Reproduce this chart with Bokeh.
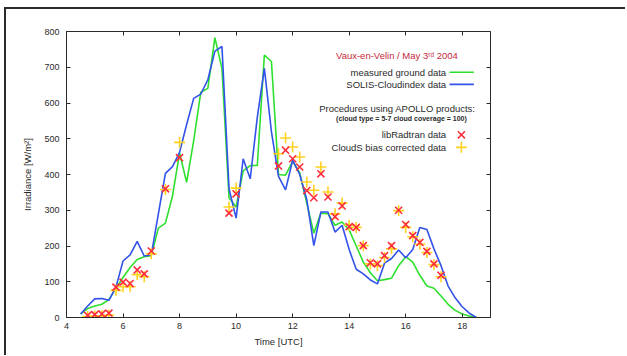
from bokeh.plotting import figure
from bokeh.models import LinearAxis, SingleIntervalTicker, Label, Range1d
from bokeh.embed import file_html
from bokeh.resources import INLINE

# ---------------- data ----------------
line_time = [4.5, 4.75, 5.0, 5.25, 5.5, 5.75, 6.0, 6.25, 6.5, 6.75, 7.0, 7.25, 7.5, 7.75,
             8.0, 8.25, 8.5, 8.75, 9.0, 9.25, 9.5, 9.75, 10.0, 10.25, 10.5, 10.75, 11.0,
             11.25, 11.5, 11.75, 12.0, 12.25, 12.5, 12.75, 13.0, 13.25, 13.5, 13.75, 14.0,
             14.25, 14.5, 14.75, 15.0, 15.25, 15.5, 15.75, 16.0, 16.25, 16.5, 16.75, 17.0,
             17.25, 17.5, 17.75, 18.0, 18.25, 18.5]
measured_ground = [10, 25, 32, 37, 50, 82, 112, 140, 162, 170, 173, 250, 264, 340,
                   460, 378, 495, 630, 641, 783, 696, 335, 309, 410, 425, 425, 734,
                   716, 400, 398, 437, 405, 320, 236, 292, 290, 258, 267, 245,
                   200, 155, 125, 103, 106, 110, 145, 170, 155, 118, 88, 82,
                   60, 37, 20, 10, 4, 0]
solis_cloudindex = [10, 32, 52, 53, 48, 85, 158, 175, 213, 172, 175, 290, 403, 422,
                    462, 540, 613, 625, 665, 745, 758, 360, 278, 444, 388, 560, 697,
                    520, 395, 357, 440, 400, 330, 201, 295, 295, 239, 258, 190,
                    135, 122, 105, 94, 152, 165, 189, 167, 190, 252, 246, 192,
                    145, 88, 55, 30, 12, 0]

model_time = [4.75, 5.0, 5.25, 5.5, 5.75, 6.0, 6.25, 6.5, 6.75, 7.0, 7.5, 8.0, 9.75, 10.0,
              11.5, 11.75, 12.0, 12.25, 12.5, 12.75, 13.0, 13.25, 13.5, 13.75, 14.0, 14.25,
              14.5, 14.75, 15.0, 15.25, 15.5, 15.75, 16.0, 16.25, 16.5, 16.75, 17.0, 17.25]
libradtran = [6, 8, 10, 12, 85, 99, 95, 133, 122, 186, 360, 447, 292, 346,
              424, 468, 444, 421, 355, 335, 402, 337, 282, 312, 254, 252,
              201, 153, 150, 173, 201, 300, 260, 229, 210, 185, 150, 118]
clouds_corrected = [3, 4, 5, 7, 76, 86, 86, 120, 114, 178, 358, 490, 309, 362,
                    458, 502, 477, 449, 379, 356, 421, 351, 290, 320, 258, 252,
                    201, 150, 145, 168, 192, 299, 252, 226, 205, 182, 148, 114]

x_ticks_interval = 2
y_ticks_interval = 100

title_text = "Vaux-en-Velin / May 3\u02b3\u1d48 2004"
legend_labels = ["measured ground data", "SOLIS-Cloudindex data",
                 "libRadtran data", "CloudS bias corrected data"]
apollo_text = "Procedures using APOLLO products:"
apollo_sub = "(cloud type = 5-7  cloud coverage = 100)"

# ---------------- styling ----------------
FONT = "Liberation Sans"
DARK = "#2a2a2a"
GREEN = "#2ee02e"
BLUE = "#3352ea"
RED = "#ff2d3c"
YELLOW = "#ffd21f"

p = figure(width=621, height=348, output_backend="svg", toolbar_location=None,
           x_range=Range1d(4, 19), y_range=Range1d(0, 800),
           min_border_left=60, min_border_right=137, min_border_top=22, min_border_bottom=40)
p.styles = {"margin-left": "4px", "margin-top": "7px",
            "border-left": "2px solid #2b2b2b", "border-top": "2px solid #2b2b2b"}
p.background_fill_color = "white"
p.border_fill_color = "white"
p.outline_line_color = DARK
p.outline_line_width = 1
p.xgrid.visible = False
p.ygrid.visible = False

xt = SingleIntervalTicker(interval=x_ticks_interval)
yt = SingleIntervalTicker(interval=y_ticks_interval)
p.xaxis.ticker = xt
p.yaxis.ticker = yt

for ax in (p.xaxis[0], p.yaxis[0]):
    ax.major_tick_in = 4
    ax.major_tick_out = 0
    ax.minor_tick_in = 0
    ax.minor_tick_out = 0
    ax.axis_line_color = DARK
    ax.major_tick_line_color = DARK
    ax.major_label_text_font = FONT
    ax.major_label_text_font_size = "9px"
    ax.major_label_text_color = DARK
    ax.axis_label_text_font = FONT
    ax.axis_label_text_font_size = "9.5px"
    ax.axis_label_text_font_style = "normal"
    ax.axis_label_text_color = DARK

p.xaxis.axis_label = "Time [UTC]"
p.yaxis.axis_label = "Irradiance [W/m\u00b2]"
p.xaxis.major_label_standoff = 5
p.xaxis.axis_label_standoff = 4
p.yaxis.major_label_standoff = 7
p.yaxis.axis_label_standoff = 8

# mirrored inward ticks on top and right (no labels)
for side, tk in (("above", xt), ("right", yt)):
    ax = LinearAxis(ticker=tk, major_tick_in=4, major_tick_out=0, minor_tick_in=0,
                    minor_tick_out=0, axis_line_color=None, major_tick_line_color=DARK,
                    major_label_text_color=None, major_label_text_font_size="1px",
                    major_label_standoff=0)
    p.add_layout(ax, side)

# ---------------- data glyphs ----------------
p.line(line_time, measured_ground, line_color=GREEN, line_width=1.6)
p.line(line_time, solis_cloudindex, line_color=BLUE, line_width=1.6)
p.scatter(model_time, clouds_corrected, marker="cross", size=11, line_color=YELLOW,
          line_width=1.6)
p.scatter(model_time, libradtran, marker="x", size=10, line_color=RED, line_width=1.6)

# ---------------- key (gnuplot style) ----------------
key_text_right = 17.43
key_sample_l, key_sample_r = 17.55, 18.41
key_marker_x = 17.97
rows_y = [686, 652, 511, 476]

p.add_layout(Label(x=15.69, y=733, text=title_text, text_align="center",
                   text_baseline="middle", text_font=FONT, text_font_size="9.5px",
                   text_color="#c8283c"))
for lab, yy in zip(legend_labels, rows_y):
    p.add_layout(Label(x=key_text_right, y=yy, text=lab, text_align="right",
                       text_baseline="middle", text_font=FONT, text_font_size="9.5px",
                       text_color=DARK))
p.add_layout(Label(x=18.47, y=586, text=apollo_text, text_align="right",
                   text_baseline="middle", text_font=FONT, text_font_size="9.5px",
                   text_color=DARK))
p.add_layout(Label(x=18.23, y=557, text=apollo_sub, text_align="right",
                   text_baseline="middle", text_font=FONT, text_font_size="7px",
                   text_font_style="bold", text_color=DARK))

p.line([key_sample_l, key_sample_r], [rows_y[0], rows_y[0]], line_color=GREEN, line_width=1.6)
p.line([key_sample_l, key_sample_r], [rows_y[1], rows_y[1]], line_color=BLUE, line_width=1.6)
p.scatter([key_marker_x], [rows_y[2]], marker="x", size=10, line_color=RED, line_width=1.6)
p.scatter([key_marker_x], [rows_y[3]], marker="cross", size=11, line_color=YELLOW, line_width=1.6)

open("out.html", "w").write(file_html(p, INLINE))
